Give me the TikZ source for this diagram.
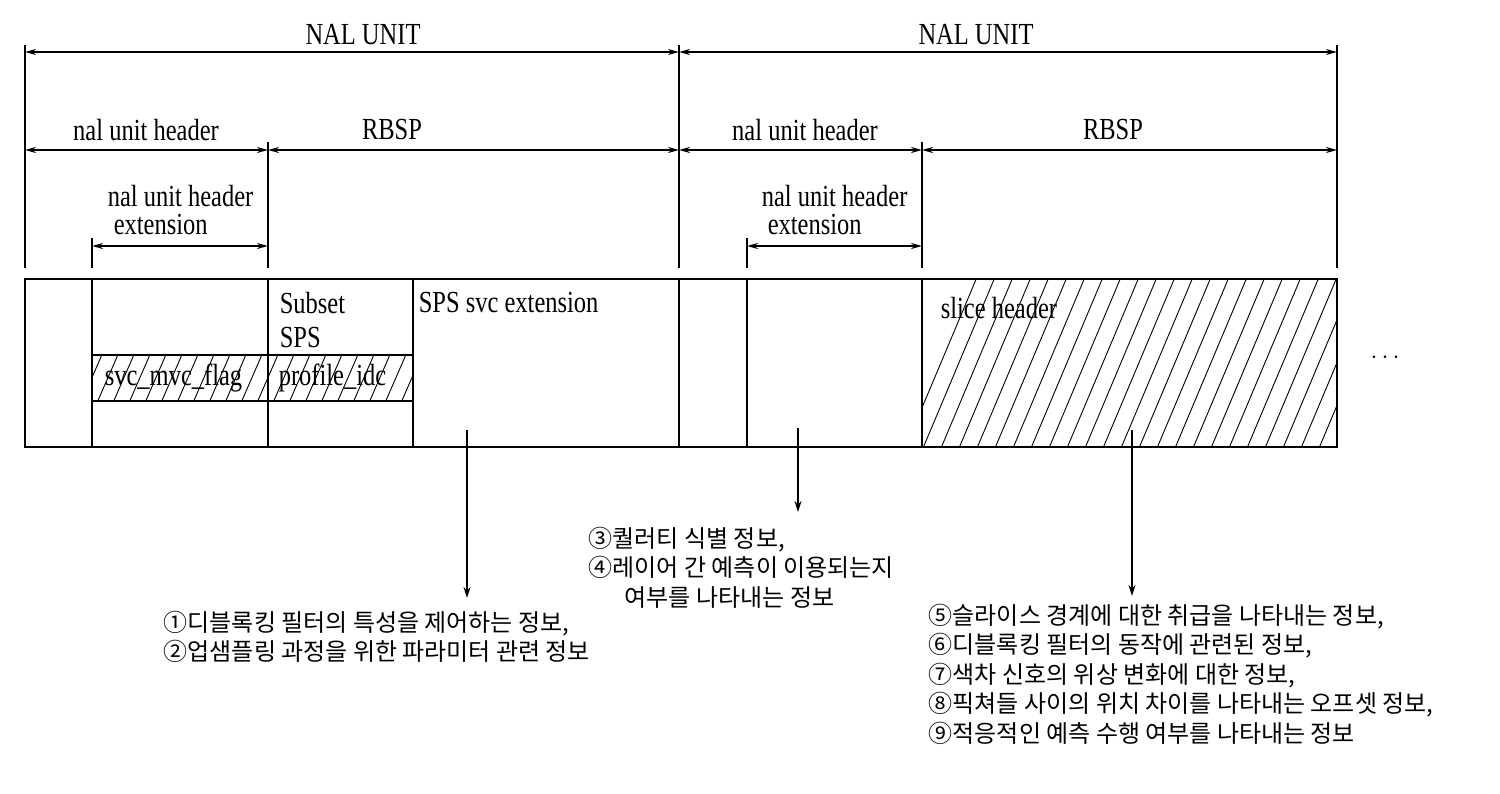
\documentclass[tikz,border=0pt]{standalone}
\usepackage{fontspec}
\usepackage{graphicx}
\setmainfont{Liberation Serif}
\newfontfamily\kr{Noto Sans CJK KR}
\usetikzlibrary{arrows.meta}
\newcommand\vs[1]{\scalebox{1}[1.25]{#1}}
\begin{document}
\begin{tikzpicture}[x=1pt,y=-1pt,line width=1.6pt,
  dim/.style={line width=1.8pt,{Stealth[length=11,width=6]}-{Stealth[length=11,width=6]}},
  lbl/.style={font=\fontsize{24.5}{28}\selectfont,inner sep=0pt},
  kor/.style={font=\kr\fontsize{24}{29.5}\selectfont,inner sep=0pt,anchor=north west,align=left},
  ptr/.style={line width=1.6pt,-{Stealth[length=11,width=7]}},
  hatch/.style={line width=0.9pt}]
\useasboundingbox (0,0) rectangle (1500,794);
% vertical extension lines
\draw (25,45) -- (25,268);
\draw (679,45) -- (679,268);
\draw (1337,45) -- (1337,268);
\draw (268,142) -- (268,268);
\draw (922,142) -- (922,268);
\draw (92,238) -- (92,268);
\draw (747,238) -- (747,268);
% dimension coordinates
\coordinate (n1a) at (25,52); \coordinate (n1b) at (679,52);
\coordinate (n2a) at (679,52); \coordinate (n2b) at (1337,52);
\coordinate (h1a) at (25,150); \coordinate (h1b) at (268,150);
\coordinate (r1a) at (268,150); \coordinate (r1b) at (679,150);
\coordinate (h2a) at (679,150); \coordinate (h2b) at (922,150);
\coordinate (r2a) at (922,150); \coordinate (r2b) at (1337,150);
\coordinate (e1a) at (92,246); \coordinate (e1b) at (268,246);
\coordinate (e2a) at (747,246); \coordinate (e2b) at (922,246);
\foreach \p in {n1,n2,h1,r1,h2,r2,e1,e2} \draw[dim] (\p a) -- (\p b);
\node[lbl] (t1) at (363,35) {\vs{NAL UNIT}};
\node[lbl] (t2) at (976,35) {\vs{NAL UNIT}};
\node[lbl] (t3) at (146,130) {\vs{nal unit header}};
\node[lbl] (t4) at (392,130) {\vs{RBSP}};
\node[lbl] (t5) at (805,130) {\vs{nal unit header}};
\node[lbl] (t6) at (1113,130) {\vs{RBSP}};
\node[lbl,anchor=west] (t7) at (107,196) {\vs{nal unit header}};
\node[lbl,anchor=west] (t7b) at (113,225) {\vs{extension}};
\node[lbl,anchor=west] (t8) at (761,196) {\vs{nal unit header}};
\node[lbl,anchor=west] (t8b) at (767,225) {\vs{extension}};
% hatching
\begin{scope}
\clip (922,279) rectangle (1337,447);
\foreach \i in {0,...,32} \draw[hatch] (900+\i*18,460) -- ++(80,-190);
\end{scope}
\begin{scope}
\clip (92,355) rectangle (413,401);
\foreach \i in {0,...,22} \draw[hatch] (80+\i*16,405) -- ++(24,-55);
\end{scope}
% main box
\draw (25,279) rectangle (1337,447);
\foreach \x in {92,268,413,679,747,922} \draw (\x,279) -- (\x,447);
\draw (92,355) -- (413,355);
\draw (92,401) -- (413,401);
\node[lbl,anchor=west] (b1) at (279,303) {\vs{Subset}};
\node[lbl,anchor=west] (b1b) at (279,338) {\vs{SPS}};
\node[lbl,anchor=west] (b2) at (418,303) {\vs{SPS svc extension}};
\node[lbl,anchor=west] (b3) at (104,378) {\vs{svc\_mvc\_flag}};
\node[lbl,anchor=west] (b4) at (278,378) {\vs{profile\_idc}};
\node[lbl,anchor=west] (b5) at (940,308) {\vs{slice header}};
\node[lbl,font=\fontsize{32}{32}\selectfont] (dots) at (1385,358) {$\cdots$};
% pointers
\coordinate (p1) at (467,430); \coordinate (p2) at (798,428); \coordinate (p3) at (1132,430);
\node[kor] (k3) at (588,526) {③퀄러티 식별 정보,\\④레이어 간 예측이 이용되는지\\\hspace*{1.5em}여부를 나타내는 정보};
\node[kor] (k1) at (163,610) {①디블록킹 필터의 특성을 제어하는 정보,\\②업샘플링 과정을 위한 파라미터 관련 정보};
\node[kor] (k5) at (928,603) {⑤슬라이스 경계에 대한 취급을 나타내는 정보,\\⑥디블록킹 필터의 동작에 관련된 정보,\\⑦색차 신호의 위상 변화에 대한 정보,\\⑧픽쳐들 사이의 위치 차이를 나타내는 오프셋 정보,\\⑨적응적인 예측 수행 여부를 나타내는 정보};
\draw[ptr] (p1) -- (467,598);
\draw[ptr] (p2) -- (798,512);
\draw[ptr] (p3) -- (1132,596);
\end{tikzpicture}
\end{document}
